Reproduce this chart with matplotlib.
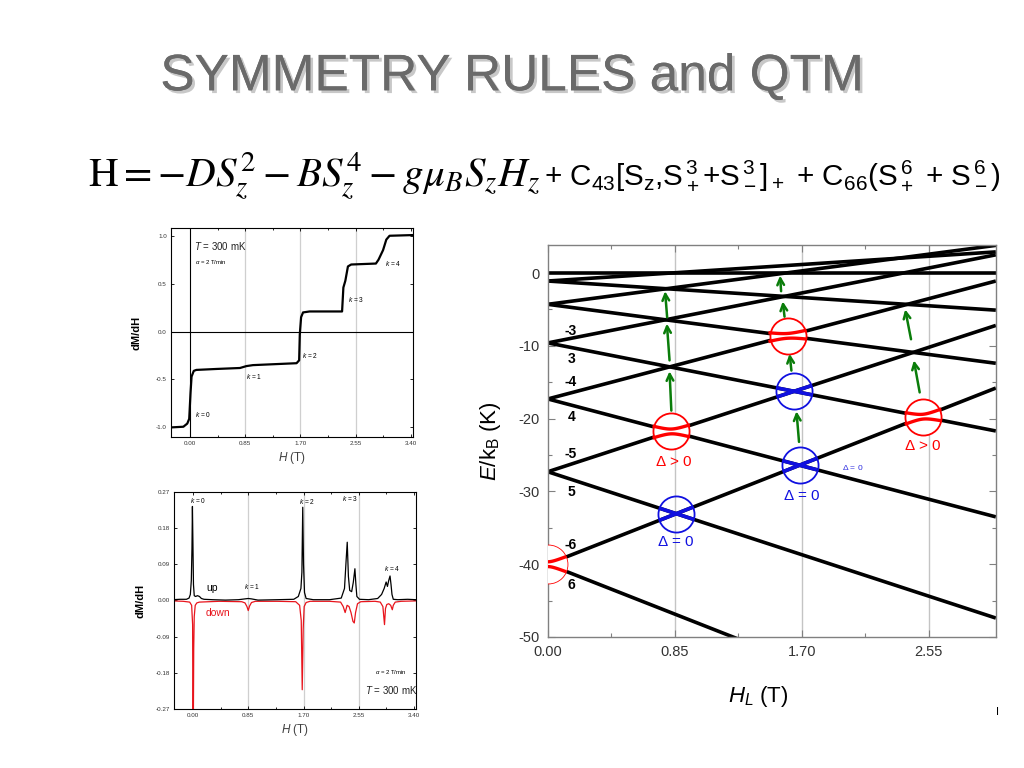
import numpy as np
import matplotlib
matplotlib.use("Agg")
import matplotlib.pyplot as plt
import matplotlib.patheffects as pe

plt.rcParams['font.family'] = ['Liberation Sans', 'DejaVu Sans']
plt.rcParams['mathtext.fontset'] = 'custom'
plt.rcParams['mathtext.rm'] = 'Liberation Sans'
plt.rcParams['mathtext.it'] = 'Liberation Sans:italic'
plt.rcParams['mathtext.bf'] = 'Liberation Sans:bold'

# --- magnetisation steps (top left) ---
step_h = [-0.29, -0.10, -0.04, -0.01, 0.01, 0.026, 0.06, 0.10, 0.41, 0.77, 0.87, 0.97, 1.64, 1.68,
          1.69, 1.71, 1.74, 1.84, 2.34, 2.36, 2.39, 2.43, 2.48, 2.86, 2.90, 2.97, 3.02, 3.07, 3.42]
step_m = [-1.0, -0.993, -0.96, -0.91, -0.64, -0.47, -0.41, -0.40, -0.39, -0.38, -0.36, -0.35, -0.33, -0.30,
          -0.03, 0.15, 0.20, 0.21, 0.21, 0.46, 0.53, 0.68, 0.70, 0.71, 0.75, 0.85, 0.96, 1.0, 1.007]

# --- derivative, sweep up (black) and down (red) ---
up_h = [-0.31, -0.20, -0.10, -0.06, -0.04, -0.025, -0.015, -0.008, 0.0, 0.008, 0.02, 0.04, 0.07, 0.10,
        0.13, 0.17, 0.30, 0.50, 0.70, 0.80, 0.85, 0.90, 1.00, 1.30, 1.55, 1.62, 1.66, 1.675, 1.688, 1.70,
        1.715, 1.74, 1.85, 2.10, 2.28, 2.33, 2.355, 2.372, 2.39, 2.41, 2.44, 2.465, 2.49, 2.505, 2.52,
        2.56, 2.70, 2.84, 2.90, 2.94, 2.97, 2.99, 3.01, 3.03, 3.045, 3.06, 3.08, 3.15, 3.30, 3.43]
up_v = [0.002, 0.003, 0.003, 0.006, 0.015, 0.05, 0.13, 0.234, 0.14, 0.04, 0.012, 0.010, 0.012, 0.010,
        0.005, 0.003, 0.002, 0.001, 0.002, 0.004, 0.005, 0.004, 0.001, 0.002, 0.003, 0.010, 0.03, 0.07,
        0.232, 0.09, 0.02, 0.005, 0.002, 0.002, 0.006, 0.03, 0.10, 0.145, 0.06, 0.025, 0.022, 0.045,
        0.079, 0.04, 0.01, 0.003, 0.002, 0.005, 0.015, 0.03, 0.046, 0.035, 0.05, 0.061, 0.04, 0.015,
        0.003, 0.002, 0.003, 0.002]
down_h = [-0.31, -0.15, -0.05, -0.02, -0.005, 0.0, 0.005, 0.012, 0.02, 0.035, 0.06, 0.10, 0.40, 0.75,
          0.80, 0.83, 0.85, 0.87, 0.90, 0.96, 1.30, 1.58, 1.64, 1.665, 1.68, 1.695, 1.71, 1.74, 1.80,
          2.10, 2.27, 2.31, 2.34, 2.37, 2.40, 2.43, 2.46, 2.48, 2.50, 2.53, 2.58, 2.80, 2.88, 2.92,
          2.945, 2.96, 2.98, 3.01, 3.04, 3.065, 3.08, 3.11, 3.20, 3.43]
down_v = [-0.001, -0.002, -0.004, -0.012, -0.06, -0.35, -0.35, -0.12, -0.04, -0.012, -0.006, -0.004,
          -0.002, -0.003, -0.006, -0.015, -0.025, -0.014, -0.005, -0.002, -0.002, -0.003, -0.012, -0.05,
          -0.222, -0.07, -0.015, -0.005, -0.002, -0.002, -0.004, -0.015, -0.03, -0.012, -0.015, -0.03,
          -0.052, -0.056, -0.03, -0.008, -0.003, -0.002, -0.004, -0.015, -0.06, -0.02, -0.01, -0.008,
          -0.012, -0.023, -0.012, -0.004, -0.002, -0.001]

res_fields = [0.85, 1.70, 2.55]
small_ticks = [0.0, 0.85, 1.70, 2.55, 3.40]

# --- Zeeman diagram: energy of each m at H=0 and at H=3.0 T ---
lvl_m = [0, -1, 1, -2, 2, -3, 3, -4, 4, -5, 5, -6, 6]
lvl_e0 = [0.0, -1.1, -1.1, -4.3, -4.3, -9.6, -9.6, -17.3, -17.3, -27.3, -27.3, -40.0, -40.0]
lvl_e1 = [0.0, 2.9, -5.1, 3.8, -12.4, 2.5, -21.7, -1.1, -33.5, -7.2, -47.4, -15.8, -64.2]
h_end = 3.0

# crossings marked: avoided (red) and true (blue), as pairs of m
avoided_pairs = [(4, -5), (-4, 2), (-6, 3)]
true_pairs = [(-6, 5), (-5, 3), (-6, 4)]

lab_txt = ['-3', '3', '-4', '4', '-5', '5', '-6', '6']
lab_h = [0.11, 0.13, 0.11, 0.13, 0.11, 0.13, 0.11, 0.13]
lab_e = [-7.9, -11.8, -15.0, -19.8, -24.8, -30.1, -37.3, -42.9]

# green arrows: tail (h, E) -> head (h, E)
arr_h0 = [0.827, 0.815, 0.799, 1.682, 1.631, 1.585, 1.562, 2.490, 2.432]
arr_e0 = [-18.9, -12.0, -6.1, -23.2, -13.4, -6.0, -2.5, -16.4, -9.1]
arr_h1 = [0.815, 0.797, 0.785, 1.665, 1.619, 1.573, 1.555, 2.451, 2.393]
arr_e1 = [-13.5, -6.95, -2.5, -19.0, -11.1, -3.9, -0.36, -12.0, -5.0]

fig = plt.figure(figsize=(10.24, 7.68), dpi=100)

# title and hamiltonian
fig.text(0.5, 0.9, 'SYMMETRY RULES and QTM', ha='center', va='center', fontsize=37,
         color='#6a6a6a',
         path_effects=[pe.withSimplePatchShadow(offset=(2, -2), shadow_rgbFace='#c8c8c8', alpha=1.0),
                       pe.Normal()])
fig.text(0.086, 0.771, r'$\mathrm{H} = -DS_z^2 - BS_z^4 - g\mu_B S_z H_z$', ha='left', va='center',
         fontsize=29.5, math_fontfamily='stix')
fig.text(0.531, 0.771,
         r'+ C$_{43}$[S$_\mathrm{z}$,S$_+^{\,3}$+S$_-^{\,3}$]$_+$ + C$_{66}$(S$_+^{\,6}$ + S$_-^{\,6}$)',
         ha='left', va='center', fontsize=21.3)


def small_axes(ax, ylim, yticks, ylabels):
    ax.set_xlim(-0.29, 3.43)
    ax.set_ylim(*ylim)
    for x in res_fields:
        ax.axvline(x, color='#cfcfcf', lw=0.9, zorder=0)
    ax.set_xticks(small_ticks)
    ax.set_xticklabels(['0.00', '0.85', '1.70', '2.55', '3.40'])
    ax.set_xticks([0.425, 1.275, 2.125, 2.975], minor=True)
    ax.set_yticks(yticks)
    ax.set_yticklabels(ylabels)
    ax.tick_params(which='both', direction='in', top=True, right=True, labelsize=4.5,
                   labelcolor='#333333', width=0.6, pad=3)
    ax.tick_params(which='major', length=2.5)
    ax.tick_params(which='minor', length=1.5)
    for s in ax.spines.values():
        s.set_linewidth(0.8)
    ax.set_xlabel(r'$H$ (T)', fontsize=8.5, color='#404040', labelpad=3)
    ax.set_ylabel('dM/dH', fontsize=8, fontweight='bold')
    ax.yaxis.set_label_coords(-0.12, 0.5)


# top left: steps
ax1 = fig.add_axes([0.167, 0.431, 0.2363, 0.272])
small_axes(ax1, (-1.1, 1.08), [-1.0, -0.5, 0.0, 0.5, 1.0], ['-1.0', '-0.5', '0.0', '0.5', '1.0'])
ax1.axhline(0, color='black', lw=0.8)
ax1.axvline(0, color='black', lw=0.8)
ax1.plot(step_h, step_m, color='black', lw=1.6)
ax1.text(0.06, 0.89, r'$T$ = 300 mK', fontsize=7, va='center', color='#222222')
ax1.text(0.08, 0.73, r'$\alpha$ = 2 T/min', fontsize=4.3, va='center')
for txt, x, y in [('0', 0.08, -0.87), ('1', 0.87, -0.47), ('2', 1.73, -0.25), ('3', 2.43, 0.33),
                  ('4', 3.0, 0.71)]:
    ax1.text(x, y, r'$k$ = ' + txt, fontsize=4.8, va='center')

# bottom left: derivative
ax2 = fig.add_axes([0.170, 0.0768, 0.2363, 0.2826])
small_axes(ax2, (-0.27, 0.27), [-0.27, -0.18, -0.09, 0.0, 0.09, 0.18, 0.27],
           ['-0.27', '-0.18', '-0.09', '0.00', '0.09', '0.18', '0.27'])
ax2.plot(down_h, down_v, color='#e8141c', lw=0.9)
ax2.plot(up_h, up_v, color='black', lw=0.9)
for txt, x, y in [('0', -0.05, 0.25), ('2', 1.63, 0.247), ('3', 2.29, 0.255), ('4', 2.93, 0.08),
                  ('1', 0.79, 0.036)]:
    ax2.text(x, y, r'$k$ = ' + txt, fontsize=4.8, va='center')
ax2.text(0.2, 0.031, 'up', fontsize=7.5, va='center')
ax2.text(0.2, -0.03, 'down', fontsize=7.5, va='center', color='#e8141c')
ax2.text(2.8, -0.178, r'$\alpha$ = 2 T/min', fontsize=4.3, va='center')
ax2.text(2.65, -0.223, r'$T$ = 300 mK', fontsize=7, va='center', color='#222222')

# right: Zeeman diagram
ax3 = fig.add_axes([0.535, 0.1706, 0.4375, 0.5104])
ylo, yhi = -50, 3.85
ax3.set_xlim(0, h_end)
ax3.set_ylim(ylo, yhi)
for x in res_fields:
    ax3.axvline(x, color='#c4c4c4', lw=1.0, zorder=0)

lvl = {m: (e0, (e1 - e0) / h_end) for m, e0, e1 in zip(lvl_m, lvl_e0, lvl_e1)}
for m, e0, e1 in zip(lvl_m, lvl_e0, lvl_e1):
    ax3.plot([0, h_end], [e0, e1], color='black', lw=2.6, solid_capstyle='butt', zorder=2)

# circle radius in data units (18 px)
pos = ax3.get_position()
r_px = 18
rx = r_px * h_end / (pos.width * 1024)
ry = r_px * (yhi - ylo) / (pos.height * 768)


def cross(m1, m2):
    a1, s1 = lvl[m1]
    a2, s2 = lvl[m2]
    hx = (a2 - a1) / (s1 - s2) if s1 != s2 else 0.0
    return hx, a1 + s1 * hx


def chord(s):
    return 1.0 / np.sqrt(1.0 / rx ** 2 + (s / ry) ** 2)


gap = 0.33
for m1, m2 in avoided_pairs + [(-6, 6)]:
    cx, cy = cross(m1, m2)
    s1, s2 = lvl[m1][1], lvl[m2][1]
    dx = min(chord(s1), chord(s2))
    hh = np.linspace(max(cx - dx, 0), cx + dx, 60)
    l1 = cy + s1 * (hh - cx)
    l2 = cy + s2 * (hh - cx)
    mid = (l1 + l2) / 2
    half = np.sqrt(((l1 - l2) / 2) ** 2 + gap ** 2)
    thin = cx == 0
    ax3.plot([cx], [cy], 'o', ms=26 if not thin else 28, mfc='white', mec='red',
             mew=1.3 if not thin else 0.6, zorder=3)
    ax3.plot(hh, mid + half, color='red', lw=2.4, zorder=4)
    ax3.plot(hh, mid - half, color='red', lw=2.4, zorder=4)

for m1, m2 in true_pairs:
    cx, cy = cross(m1, m2)
    for m in (m1, m2):
        s = lvl[m][1]
        dx = chord(s)
        ax3.plot([cx - dx, cx + dx], [cy - s * dx, cy + s * dx], color='#1010e0', lw=2.6,
                 solid_capstyle='butt', zorder=4)
    ax3.plot([cx], [cy], 'o', ms=26, mfc='none', mec='#1010e0', mew=1.3, zorder=5)

for h0, e0, h1, e1 in zip(arr_h0, arr_e0, arr_h1, arr_e1):
    ax3.annotate('', xy=(h1, e1), xytext=(h0, e0),
                 arrowprops=dict(arrowstyle='->', color='#0a7d0a', lw=1.8, mutation_scale=12,
                                 shrinkA=0, shrinkB=0), zorder=6)

for t, x, y in zip(lab_txt, lab_h, lab_e):
    ax3.text(x, y, t, fontsize=10, fontweight='bold', ha='left', va='center', zorder=6)

ax3.text(0.845, -26.0, r'$\Delta$ > 0', color='red', fontsize=11, ha='center', va='center')
ax3.text(2.51, -23.7, r'$\Delta$ > 0', color='red', fontsize=11, ha='center', va='center')
ax3.text(2.04, -26.7, r'$\Delta$ = 0', color='#3030e0', fontsize=6, ha='center', va='center')
ax3.text(1.70, -30.6, r'$\Delta$ = 0', color='#1010e0', fontsize=11, ha='center', va='center')
ax3.text(0.857, -37.0, r'$\Delta$ = 0', color='#1010e0', fontsize=11, ha='center', va='center')

ax3.set_xticks([0.0, 0.85, 1.70, 2.55])
ax3.set_xticklabels(['0.00', '0.85', '1.70', '2.55'])
ax3.set_xticks([0.425, 1.275, 2.125], minor=True)
ax3.set_yticks([0, -10, -20, -30, -40, -50])
ax3.set_yticklabels(['0', '-10', '-20', '-30', '-40', '-50'])
ax3.set_yticks([-5, -15, -25, -35, -45], minor=True)
ax3.tick_params(which='both', direction='in', top=True, right=True, color='#808080',
                labelsize=10.5, labelcolor='#333333', width=0.8, pad=6)
ax3.tick_params(which='major', length=5)
ax3.tick_params(which='minor', length=3)
for s in ax3.spines.values():
    s.set_color('#808080')
    s.set_linewidth(1.0)
ax3.set_ylabel(r'$E$/k$_\mathrm{B}$ (K)', fontsize=16)
ax3.yaxis.set_label_coords(-0.10, 0.5)
ax3.set_xlabel(r'$H_L$ (T)', fontsize=16)
ax3.xaxis.set_label_coords(0.47, -0.12)

fig.text(0.974, 0.073, 'I', fontsize=8, ha='center', va='center')

fig.savefig('out.png', dpi=100)
